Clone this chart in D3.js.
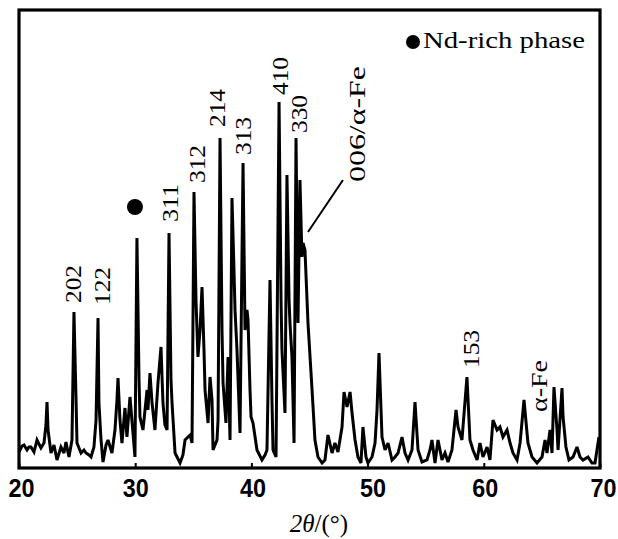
<!DOCTYPE html>
<html>
<head>
<meta charset="utf-8">
<script src="https://cdn.jsdelivr.net/npm/d3@7/dist/d3.min.js"></script>
<style>
  html, body { margin: 0; padding: 0; background: #fff; }
  svg { display: block; }
</style>
</head>
<body>
<svg id="chart" width="618" height="539"></svg>
<script>
// 2θ (degrees)
const twoTheta = [
  20.00,20.26,20.43,20.69,20.86,21.03,21.29,21.55,21.89,22.15,22.32,22.41,22.50,22.75,23.01,23.27,23.61,23.87,24.04,24.30,
  24.56,24.73,24.91,24.99,25.34,25.59,25.77,26.02,26.20,26.45,26.63,26.80,26.88,27.06,27.23,27.49,27.66,28.00,28.26,28.43,
  28.52,28.69,28.86,29.12,29.29,29.55,29.81,29.98,30.15,30.33,30.41,30.67,31.02,31.10,31.27,31.45,31.70,31.96,32.22,32.39,
  32.56,32.74,32.91,33.08,33.17,33.43,33.86,34.11,34.29,34.54,34.72,34.89,35.06,35.23,35.40,35.58,35.75,35.92,36.01,36.27,
  36.44,36.61,36.70,37.04,37.13,37.30,37.47,37.56,37.81,37.99,38.16,38.33,38.50,38.59,38.76,39.02,39.28,39.45,39.62,39.71,
  39.88,39.97,40.14,40.48,40.91,41.17,41.34,41.60,41.77,41.86,42.12,42.38,42.55,42.63,42.89,43.06,43.24,43.32,43.49,43.67,
  43.84,44.01,44.18,44.35,44.44,44.61,44.87,45.22,45.47,45.73,46.08,46.33,46.59,46.94,47.19,47.45,47.80,47.97,48.23,48.49,
  48.66,48.92,49.17,49.43,49.60,49.86,50.03,50.38,50.64,50.81,50.98,51.24,51.50,51.76,52.10,52.36,52.62,52.96,53.22,53.48,
  53.82,54.08,54.34,54.68,55.11,55.37,55.54,55.80,56.06,56.40,56.66,56.92,57.26,57.61,57.78,58.12,58.55,58.81,59.07,59.42,
  59.67,59.93,60.28,60.53,60.79,61.14,61.39,61.65,62.00,62.26,62.51,62.86,63.12,63.46,63.80,64.15,64.58,65.01,65.27,65.44,
  65.70,65.87,66.04,66.30,66.39,66.73,66.82,67.07,67.33,67.68,68.02,68.28,68.54,68.97,69.31,69.57,69.74,69.91
];
// intensity (arbitrary units)
const intensity = [
  16,22,23,18,21,21,16,28,20,25,43,66,38,15,23,8,21,15,26,11,
  28,156,68,25,15,18,15,13,11,21,48,150,65,28,6,23,28,15,38,68,
  90,48,25,60,31,71,35,11,230,88,51,38,78,58,95,65,38,85,121,65,
  43,38,235,88,65,15,5,13,28,31,33,25,276,168,111,138,181,118,78,45,
  91,68,18,28,48,330,138,85,45,111,28,270,198,158,118,35,305,138,158,148,
  78,51,45,18,8,13,18,188,68,18,11,366,168,118,55,293,168,145,111,25,
  330,145,288,211,225,218,145,78,28,11,5,8,33,15,25,16,41,76,61,76,
  55,28,11,5,41,11,5,11,25,58,115,31,18,25,8,11,15,31,15,8,
  18,66,18,6,8,18,28,5,28,8,15,6,18,58,41,28,91,28,18,8,
  25,11,21,8,48,38,41,31,38,25,15,8,25,68,25,11,5,11,28,15,
  38,15,81,38,18,80,51,21,8,11,21,11,8,11,5,5,18,31
];
// x-axis ticks
const xTicks = [20, 30, 40, 50, 60, 70];
// peak labels: text, 2θ position, intensity at label base
const peakLabels = ["202", "122", "311", "312", "214", "313", "410", "330", "153"];
const peakLabelX = [24.62, 27.14, 33.00, 35.32, 37.04, 39.28, 42.46, 44.10, 58.90];
const peakLabelI = [165, 163, 246, 285, 341, 313, 373, 335, 100];
// Nd-rich phase marker
const ndMarkerX = 29.98;
const ndMarkerI = 261;
// 006/α-Fe pointer (2θ, intensity) endpoints and label
const pointerX = [44.87, 47.88];
const pointerI = [236, 288];
const pointerLabel = "006/α-Fe";
const pointerLabelX = 49.09;
const pointerLabelI = 286;
// α-Fe label
const aFeLabel = "α-Fe";
const aFeLabelX = 64.75;
const aFeLabelI = 56;
const legendText = "Nd-rich phase";
const xTitle = ["2", "θ", "/(°)"];

const svg = d3.select("#chart");
const L = 19, R = 600, T = 10, B = 468;
const x = d3.scaleLinear().domain([20, 70]).range([L, R]);
const y = d3.scaleLinear().domain([0, 458]).range([B, T]);

const serif = "'Times New Roman','Liberation Serif',Times,serif";
const sans = "Arial,'Liberation Sans',sans-serif";

// pattern line
const pts = twoTheta.map((t, i) => [t, intensity[i]]);
const line = d3.line().x(d => x(d[0])).y(d => y(d[1]));
svg.append("path")
  .datum(pts)
  .attr("d", line)
  .attr("fill", "none")
  .attr("stroke", "#000")
  .attr("stroke-width", 3)
  .attr("stroke-linejoin", "miter")
  .attr("stroke-miterlimit", 3);

// frame
svg.append("rect")
  .attr("x", L).attr("y", T)
  .attr("width", R - L).attr("height", B - T)
  .attr("fill", "none").attr("stroke", "#000").attr("stroke-width", 3.2);

// x axis ticks and labels
const axis = d3.axisBottom(x).tickValues(xTicks).tickSize(-5).tickFormat(d3.format("d"));
const gx = svg.append("g").attr("transform", `translate(0,${B})`).call(axis);
gx.select(".domain").remove();
gx.selectAll(".tick line").attr("stroke", "#000").attr("stroke-width", 2);
gx.selectAll(".tick text")
  .attr("y", 29)
  .attr("dy", 0)
  .attr("fill", "#000")
  .style("font-family", sans)
  .style("font-weight", "bold")
  .style("font-size", "25px")
  .attr("textLength", 26)
  .attr("lengthAdjust", "spacingAndGlyphs");
gx.selectAll(".tick text").filter(d => d === 20).attr("dx", 2);
gx.selectAll(".tick text").filter(d => d === 40 || d === 60).attr("dx", 1);
gx.selectAll(".tick text").filter(d => d === 50).attr("dx", 5);
gx.selectAll(".tick text").filter(d => d === 70).attr("dx", 3);

// x axis title
const tt = svg.append("text")
  .attr("x", 319).attr("y", 532)
  .attr("text-anchor", "middle")
  .style("font-family", serif)
  .style("font-size", "25px")
  .attr("fill", "#000");
tt.append("tspan").style("font-style", "italic").text(xTitle[0]);
tt.append("tspan").style("font-style", "italic").text(xTitle[1]);
tt.append("tspan").text(xTitle[2]);

// peak labels (rotated)
function vlabel(text, px, py, len) {
  svg.append("text")
    .attr("transform", `translate(${px},${py}) rotate(-90)`)
    .attr("x", 0).attr("y", 0)
    .attr("dy", "0.35em")
    .attr("text-anchor", "start")
    .style("font-family", serif)
    .style("font-size", "24px")
    .attr("fill", "#000")
    .attr("textLength", len)
    .attr("lengthAdjust", "spacingAndGlyphs")
    .text(text);
}
peakLabels.forEach((t, i) => vlabel(t, x(peakLabelX[i]), y(peakLabelI[i]), 38));
vlabel(pointerLabel, x(pointerLabelX), y(pointerLabelI), 116);
vlabel(aFeLabel, x(aFeLabelX), y(aFeLabelI), 52);

// pointer line
svg.append("line")
  .attr("x1", x(pointerX[0])).attr("y1", y(pointerI[0]))
  .attr("x2", x(pointerX[1])).attr("y2", y(pointerI[1]))
  .attr("stroke", "#000").attr("stroke-width", 2);

// Nd-rich marker
svg.append("circle")
  .attr("cx", x(ndMarkerX)).attr("cy", y(ndMarkerI))
  .attr("r", 8).attr("fill", "#000");

// legend
svg.append("circle").attr("cx", 413).attr("cy", 42).attr("r", 7).attr("fill", "#000");
svg.append("text")
  .attr("x", 423).attr("y", 48)
  .style("font-family", serif)
  .style("font-size", "23px")
  .attr("fill", "#000")
  .attr("textLength", 162)
  .attr("lengthAdjust", "spacingAndGlyphs")
  .text(legendText);
</script>
</body>
</html>
